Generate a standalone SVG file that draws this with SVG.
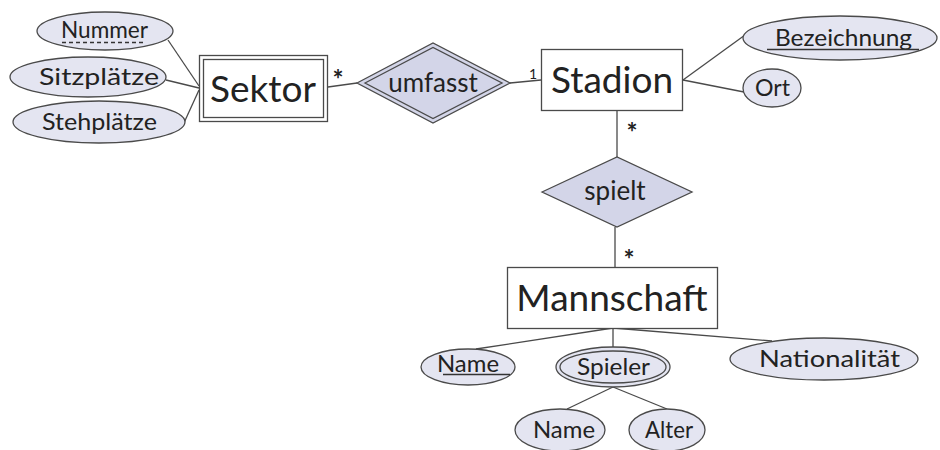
<svg xmlns="http://www.w3.org/2000/svg" width="940" height="450" viewBox="0 0 940 450">
  <style>
    .bg { fill: #ffffff; }
    .ent { fill: #ffffff; stroke: #4a4a4a; stroke-width: 1.3; }
    .attr { fill: #e4e5f1; stroke: #4a4a4a; stroke-width: 1.3; }
    .attr2 { fill: none; stroke: #4a4a4a; stroke-width: 1.3; }
    .rel { fill: #d3d5e8; stroke: #4a4a4a; stroke-width: 1.3; }
    .rel2 { fill: none; stroke: #4a4a4a; stroke-width: 1.3; }
    .edge { stroke: #4a4a4a; stroke-width: 1.3; fill: none; }
    .key { stroke: #333333; stroke-width: 1.4; }
    .weak { stroke: #333333; stroke-width: 1.4; stroke-dasharray: 4 3; }
    text { font-family: Lato, "Open Sans", sans-serif; fill: #222222; text-anchor: middle; }
    .tE { font-size: 37px; }
    .tR { font-size: 26px; }
    .tA { font-size: 24px; }
    .tC { font-size: 26px; font-weight: bold; }
    .tN { font-size: 14px; }
  </style>
  <rect class="bg" x="0" y="0" width="940" height="450"/>

  <!-- connectors -->
  <g id="connectors">
    <line class="edge" x1="168" y1="40" x2="199" y2="86"/>
    <line class="edge" x1="166" y1="80" x2="199" y2="88"/>
    <line class="edge" x1="183" y1="125" x2="199" y2="90"/>
    <line class="edge" x1="328" y1="87" x2="357" y2="83"/>
    <line class="edge" x1="510" y1="83" x2="541" y2="80"/>
    <line class="edge" x1="683" y1="80" x2="745" y2="35"/>
    <line class="edge" x1="683" y1="80" x2="744" y2="92"/>
    <line class="edge" x1="617" y1="111" x2="617" y2="157"/>
    <line class="edge" x1="615" y1="227" x2="615" y2="267"/>
    <line class="edge" x1="613" y1="328" x2="476" y2="349"/>
    <line class="edge" x1="613" y1="328" x2="613" y2="347"/>
    <line class="edge" x1="613" y1="328" x2="772" y2="341"/>
    <line class="edge" x1="613" y1="387" x2="567" y2="409"/>
    <line class="edge" x1="613" y1="387" x2="667" y2="409"/>
    <text class="tC" x="338" y="89">*</text>
    <text class="tN" x="533" y="79">1</text>
    <text class="tC" x="632" y="142">*</text>
    <text class="tC" x="629" y="269">*</text>
  </g>

  <!-- attributes of Sektor -->
  <g id="attr-nummer">
    <ellipse class="attr" cx="105" cy="31" rx="68" ry="19"/>
    <text class="tA" x="104.5" y="38" textLength="87" lengthAdjust="spacingAndGlyphs">Nummer</text>
    <line class="weak" x1="62" y1="42.5" x2="143" y2="42.5"/>
  </g>
  <g id="attr-sitzplaetze">
    <ellipse class="attr" cx="88" cy="77" rx="78" ry="20"/>
    <text class="tA" x="99" y="85" textLength="120" lengthAdjust="spacingAndGlyphs">Sitzplätze</text>
  </g>
  <g id="attr-stehplaetze">
    <ellipse class="attr" cx="99" cy="122" rx="86" ry="21"/>
    <text class="tA" x="99.5" y="130" textLength="115" lengthAdjust="spacingAndGlyphs">Stehplätze</text>
  </g>

  <!-- weak entity Sektor -->
  <g id="sektor">
    <rect class="ent" x="199.5" y="55.5" width="128" height="66"/>
    <rect class="ent" x="203.5" y="59.5" width="120" height="58"/>
    <text class="tE" x="263" y="102">Sektor</text>
  </g>

  <!-- identifying relationship umfasst -->
  <g id="umfasst">
    <polygon class="rel" points="357,83 433,43 510,83 433,123"/>
    <polygon class="rel2" points="365,83 433,47.5 502,83 433,118.5"/>
    <text class="tR" x="433" y="92">umfasst</text>
  </g>

  <!-- entity Stadion -->
  <g id="stadion">
    <rect class="ent" x="541.5" y="49.5" width="141" height="61"/>
    <text class="tE" x="612" y="93">Stadion</text>
  </g>
  <g id="attr-bezeichnung">
    <ellipse class="attr" cx="840" cy="38" rx="97" ry="22"/>
    <text class="tA" x="843.5" y="46" textLength="137" lengthAdjust="spacingAndGlyphs">Bezeichnung</text>
    <line class="key" x1="767" y1="49.5" x2="919" y2="49.5"/>
  </g>
  <g id="attr-ort">
    <ellipse class="attr" cx="772" cy="88" rx="29" ry="19"/>
    <text class="tA" x="772.5" y="96" textLength="35" lengthAdjust="spacingAndGlyphs">Ort</text>
  </g>

  <!-- relationship spielt -->
  <g id="spielt">
    <polygon class="rel" points="542,192 617,157 692,192 617,227"/>
    <text class="tR" x="615" y="200">spielt</text>
  </g>

  <!-- entity Mannschaft -->
  <g id="mannschaft">
    <rect class="ent" x="507.5" y="267.5" width="210" height="61"/>
    <text class="tE" x="612" y="311">Mannschaft</text>
  </g>
  <g id="attr-name">
    <ellipse class="attr" cx="468" cy="367" rx="47" ry="18"/>
    <text class="tA" x="468" y="372" textLength="62" lengthAdjust="spacingAndGlyphs">Name</text>
    <line class="key" x1="443" y1="374.5" x2="510" y2="374.5"/>
  </g>
  <g id="attr-spieler">
    <ellipse class="attr" cx="613" cy="367" rx="57" ry="20"/>
    <ellipse class="attr2" cx="613" cy="367" rx="53" ry="16"/>
    <text class="tA" x="613.5" y="375" textLength="73" lengthAdjust="spacingAndGlyphs">Spieler</text>
  </g>
  <g id="attr-nationalitaet">
    <ellipse class="attr" cx="824" cy="359" rx="94" ry="21"/>
    <text class="tA" x="829.5" y="367" textLength="141" lengthAdjust="spacingAndGlyphs">Nationalität</text>
  </g>
  <g id="attr-spieler-name">
    <ellipse class="attr" cx="560" cy="430" rx="45" ry="21"/>
    <text class="tA" x="564" y="438" textLength="62" lengthAdjust="spacingAndGlyphs">Name</text>
  </g>
  <g id="attr-alter">
    <ellipse class="attr" cx="667" cy="430" rx="38" ry="21"/>
    <text class="tA" x="669" y="438" textLength="48" lengthAdjust="spacingAndGlyphs">Alter</text>
  </g>
</svg>
